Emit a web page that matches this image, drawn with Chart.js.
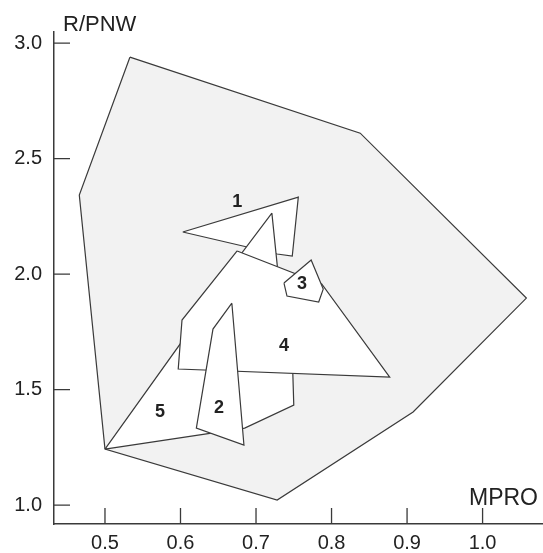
<!DOCTYPE html>
<html lang="en">
<head>
    <meta charset="UTF-8">
    <title>R/PNW vs MPRO</title>
    <script src="https://cdn.jsdelivr.net/npm/chart.js@4.4.0/dist/chart.umd.min.js"></script>
    <style>
        html, body { margin: 0; padding: 0; background: #fff; }
        #wrap { width: 543px; height: 553px; position: relative; }
    </style>
</head>
<body>
    <div id="wrap"><canvas id="hullChart"></canvas></div>
    <script>
        // polygon vertices, [MPRO, R/PNW]
        const outerHull = [[0.533, 2.939], [0.838, 2.610], [1.058, 1.896], [0.908, 1.403], [0.728, 1.022], [0.500, 1.242], [0.466, 2.342]];
        const group5 = [[0.500, 1.242], [0.626, 1.818], [0.748, 1.649], [0.750, 1.433], [0.685, 1.333]];
        const group1 = [[0.603, 2.182], [0.756, 2.333], [0.748, 2.078], [0.728, 2.087]];
        const spike = [[0.721, 2.264], [0.729, 2.009], [0.676, 2.069]];
        const group4 = [[0.675, 2.100], [0.787, 1.957], [0.877, 1.554], [0.597, 1.589], [0.602, 1.801]];
        const group3 = [[0.737, 1.961], [0.773, 2.061], [0.789, 1.935], [0.783, 1.879], [0.741, 1.905]];
        const group2 = [[0.668, 1.874], [0.643, 1.762], [0.621, 1.333], [0.684, 1.260]];

        const labelText = ['1', '2', '3', '4', '5'];
        const labelX = [0.675, 0.651, 0.761, 0.737, 0.573];
        const labelY = [2.312, 1.420, 1.957, 1.688, 1.403];

        const xTicks = [0.5, 0.6, 0.7, 0.8, 0.9, 1.0];
        const yTicks = [1.0, 1.5, 2.0, 2.5, 3.0];

        const FONT = "'Liberation Sans', Arial, sans-serif";
        const INK = '#3a3a3a';

        function poly(points, fillColor, order) {
            const pts = points.map(p => ({ x: p[0], y: p[1] }));
            pts.push({ x: points[0][0], y: points[0][1] });
            return {
                data: pts,
                showLine: true,
                fill: 'shape',
                backgroundColor: fillColor,
                borderColor: INK,
                borderWidth: 1.2,
                pointRadius: 0,
                tension: 0,
                order: order
            };
        }

        // short inward ticks + group numbers + axis titles
        const decorations = {
            id: 'decorations',
            afterDatasetsDraw(chart) {
                const ctx = chart.ctx;
                const xs = chart.scales.x, ys = chart.scales.y;
                const area = chart.chartArea;
                ctx.save();
                ctx.strokeStyle = INK;
                ctx.lineWidth = 1.3;
                ctx.beginPath();
                xTicks.forEach(v => {
                    const px = xs.getPixelForValue(v);
                    ctx.moveTo(px, area.bottom);
                    ctx.lineTo(px, area.bottom - 16);
                });
                yTicks.forEach(v => {
                    const py = ys.getPixelForValue(v);
                    ctx.moveTo(area.left, py);
                    ctx.lineTo(area.left + 16, py);
                });
                ctx.stroke();

                ctx.fillStyle = '#222';
                ctx.textAlign = 'center';
                ctx.textBaseline = 'middle';
                ctx.font = 'bold 18px ' + FONT;
                labelText.forEach((t, i) => {
                    ctx.fillText(t, xs.getPixelForValue(labelX[i]), ys.getPixelForValue(labelY[i]));
                });

                ctx.textBaseline = 'alphabetic';
                ctx.textAlign = 'left';
                ctx.font = '22px ' + FONT;
                ctx.fillText('R/PNW', area.left + 9, 31);
                ctx.font = '23px ' + FONT;
                ctx.textAlign = 'right';
                ctx.fillText('MPRO', area.right - 5, 505);
                ctx.restore();
            }
        };

        const ctx = document.getElementById('hullChart').getContext('2d');
        new Chart(ctx, {
            type: 'scatter',
            data: {
                datasets: [
                    poly(group2, '#ffffff', 1),
                    poly(group3, '#ffffff', 2),
                    poly(group4, '#ffffff', 3),
                    poly(spike, '#ffffff', 4),
                    poly(group1, '#ffffff', 5),
                    poly(group5, '#ffffff', 6),
                    poly(outerHull, '#f2f2f2', 7)
                ]
            },
            options: {
                responsive: true,
                maintainAspectRatio: false,
                animation: false,
                layout: { padding: { top: 32, left: 0, right: 0, bottom: 0 } },
                scales: {
                    x: {
                        type: 'linear',
                        min: 0.4325,
                        max: 1.08,
                        afterFit(s) { s.height = 29; },
                        grid: { display: false, drawTicks: false },
                        border: { display: true, color: INK, width: 1.5 },
                        ticks: {
                            stepSize: 0.1,
                            includeBounds: false,
                            padding: 7,
                            color: '#222',
                            font: { family: FONT, size: 20 },
                            callback: v => v.toFixed(1)
                        }
                    },
                    y: {
                        type: 'linear',
                        min: 0.918,
                        max: 3.048,
                        afterFit(s) { s.width = 54; },
                        grid: { display: false, drawTicks: false },
                        border: { display: true, color: INK, width: 1.5 },
                        ticks: {
                            stepSize: 0.5,
                            includeBounds: false,
                            padding: 12,
                            color: '#222',
                            font: { family: FONT, size: 20 },
                            callback: v => v.toFixed(1)
                        }
                    }
                },
                plugins: {
                    legend: { display: false },
                    tooltip: { enabled: false },
                    title: { display: false }
                }
            },
            plugins: [decorations]
        });
    </script>
</body>
</html>
